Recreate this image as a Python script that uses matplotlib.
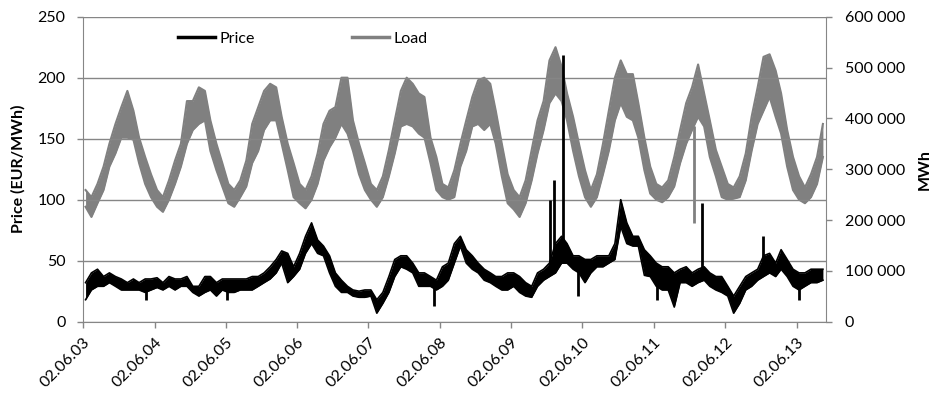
import numpy as np
import pandas as pd
import matplotlib
matplotlib.use("Agg")
import matplotlib.pyplot as plt
from matplotlib.ticker import FuncFormatter, MultipleLocator
import matplotlib.dates as mdates

# Monthly envelopes, June 2003 .. October 2013 (one value per month)
price_hi = [32, 40, 43, 37, 40, 37, 35, 32, 35, 32, 35, 35,
            36, 32, 37, 35, 35, 37, 29, 29, 37, 37, 32, 35,
            35, 35, 35, 35, 37, 37, 40, 45, 51, 58, 56, 45,
            56, 70, 81, 67, 62, 54, 40, 34, 29, 26, 25, 26,
            26, 18, 24, 37, 51, 54, 54, 48, 40, 40, 37, 34,
            45, 48, 64, 70, 59, 54, 48, 43, 40, 37, 37, 40,
            40, 37, 32, 29, 40, 43, 48, 64, 70, 64, 54, 54,
            51, 51, 54, 54, 54, 64, 100, 81, 70, 70, 59, 54,
            48, 45, 45, 40, 43, 45, 40, 43, 45, 40, 37, 37,
            29, 21, 29, 37, 40, 43, 54, 56, 48, 59, 51, 43,
            40, 40, 43, 43, 43]
price_lo = [18, 26, 29, 29, 32, 29, 26, 26, 26, 26, 24, 26,
            28, 26, 29, 26, 29, 29, 24, 21, 24, 26, 21, 26,
            24, 24, 26, 26, 26, 29, 32, 35, 40, 48, 32, 37,
            43, 56, 64, 56, 54, 40, 29, 24, 24, 21, 20, 20,
            21, 7, 15, 24, 37, 45, 43, 40, 29, 29, 29, 26,
            29, 34, 48, 62, 48, 43, 40, 34, 32, 29, 26, 26,
            29, 24, 21, 20, 29, 34, 37, 40, 48, 48, 43, 40,
            32, 40, 45, 45, 48, 51, 78, 64, 62, 62, 38, 37,
            29, 26, 26, 12, 32, 32, 29, 32, 34, 29, 26, 24,
            21, 7, 15, 26, 29, 34, 37, 40, 37, 43, 37, 29,
            26, 29, 32, 32, 34]

# short-lived price spikes and dips (EUR/MWh)
spike_dates = ["2004-04-20", "2005-06-10", "2008-05-05", "2009-12-17",
               "2010-01-08", "2010-02-22", "2010-05-10", "2011-06-20",
               "2012-02-06", "2012-12-12", "2013-06-15"]
spike_values = [18, 18, 13, 100, 116, 219, 21, 18, 97, 70, 18]

# Load envelope, thousand MWh
load_hi = [259, 245, 271, 305, 350, 389, 422, 454, 415, 362, 324, 290,
           259, 245, 278, 317, 350, 434, 434, 461, 454, 396, 350, 312,
           271, 259, 278, 317, 389, 422, 454, 468, 461, 403, 350, 312,
           271, 259, 286, 331, 389, 415, 422, 480, 480, 396, 350, 312,
           271, 259, 286, 338, 396, 454, 480, 468, 449, 442, 362, 324,
           271, 264, 298, 350, 396, 442, 475, 480, 468, 415, 350, 290,
           259, 245, 278, 338, 396, 434, 514, 540, 502, 449, 403, 350,
           298, 259, 290, 350, 415, 480, 514, 487, 487, 430, 362, 305,
           271, 264, 278, 324, 377, 430, 461, 506, 449, 396, 338, 305,
           271, 264, 286, 331, 403, 461, 521, 526, 494, 449, 377, 324,
           286, 264, 290, 324, 389]
load_lo = [226, 206, 233, 259, 305, 331, 362, 362, 358, 312, 271, 245,
           226, 216, 240, 271, 305, 350, 377, 389, 396, 336, 298, 266,
           233, 226, 245, 266, 312, 336, 377, 396, 396, 350, 298, 245,
           233, 223, 240, 271, 317, 343, 362, 389, 370, 336, 290, 259,
           240, 226, 245, 286, 331, 384, 389, 384, 370, 362, 312, 259,
           245, 240, 245, 305, 336, 384, 389, 377, 389, 350, 286, 233,
           221, 206, 233, 278, 331, 377, 430, 449, 434, 396, 336, 286,
           245, 226, 245, 290, 336, 396, 430, 403, 396, 362, 298, 252,
           240, 235, 245, 266, 312, 350, 377, 403, 384, 324, 286, 245,
           240, 242, 245, 278, 336, 389, 415, 442, 403, 370, 305, 259,
           240, 233, 245, 271, 324]
load_dip_date = "2011-12-24"
load_dip_value = 194  # thousand MWh

year_ticks = pd.date_range("2003-06-02", "2013-06-02", freq=pd.DateOffset(years=1))

months = pd.date_range("2003-06-01", periods=len(price_hi), freq="MS") + pd.Timedelta(days=14)
spikes = pd.to_datetime(spike_dates)

plt.rcParams["font.family"] = ["Lato", "DejaVu Sans"]
GRID = "#868686"
LOAD_C = "#808080"
FS = 11.5

fig = plt.figure(figsize=(9.34, 4.01), dpi=100)
ax = fig.add_axes([0.0889, 0.1978, 0.7955, 0.7606])
ax2 = ax.twinx()
ax.set_zorder(ax2.get_zorder() + 1)
ax.patch.set_visible(False)

# load on the right axis
lo = np.array(load_lo) * 1000
hi = np.array(load_hi) * 1000
ax2.fill_between(months, lo, hi, color=LOAD_C, lw=0)
ax2.plot(months, lo, color=LOAD_C, lw=1.5)
ax2.plot(months, hi, color=LOAD_C, lw=1.5)
dip_x = pd.Timestamp(load_dip_date)
dip_base = np.interp(mdates.date2num(dip_x), mdates.date2num(months), lo)
ax2.vlines(dip_x, load_dip_value * 1000, dip_base, color=LOAD_C, lw=2)

# price on the left axis
ax.fill_between(months, price_lo, price_hi, color="black", lw=0)
ax.plot(months, price_lo, color="black", lw=1.2)
ax.plot(months, price_hi, color="black", lw=1.2)
mid = (np.array(price_lo) + np.array(price_hi)) / 2
base = np.interp(mdates.date2num(spikes), mdates.date2num(months), mid)
ax.vlines(spikes, base, spike_values, color="black", lw=2)

ax.plot([], [], color="black", lw=2.5, label="Price")
ax.plot([], [], color=LOAD_C, lw=2.5, label="Load")
ax.legend(loc="center left", bbox_to_anchor=(0.128, 0.927), ncol=2, frameon=False,
          fontsize=FS, handlelength=2.3, handletextpad=0.3, columnspacing=6.1,
          borderpad=0, borderaxespad=0)

ax.set_xlim(pd.Timestamp("2003-06-02"), pd.Timestamp("2013-10-31"))
ax.set_ylim(0, 250)
ax.yaxis.set_major_locator(MultipleLocator(50))
ax2.set_ylim(0, 600000)
ax2.yaxis.set_major_locator(MultipleLocator(100000))
ax2.yaxis.set_major_formatter(FuncFormatter(lambda v, p: f"{int(v):,}".replace(",", " ")))

ax.set_xticks(year_ticks)
ax.set_xticklabels([d.strftime("%d.%m.%y") for d in year_ticks], rotation=45,
                   ha="right", va="top", rotation_mode="anchor")

ax.grid(axis="y", color=GRID, lw=1)
ax.set_axisbelow(True)
for a in (ax, ax2):
    for s in a.spines.values():
        s.set_color(GRID)
    a.spines["top"].set_visible(False)
ax.spines["right"].set_visible(False)
ax2.spines["left"].set_visible(False)
ax2.spines["bottom"].set_visible(False)

ax.tick_params(axis="y", length=4.5, width=1, color=GRID, pad=8, labelsize=FS)
ax.tick_params(axis="x", length=4.5, width=1, color=GRID, pad=5, labelsize=FS)
ax2.tick_params(axis="y", length=4.5, width=1, color=GRID, pad=9, labelsize=FS)

ax.set_ylabel("Price (EUR/MWh)", fontsize=FS, fontweight="bold")
ax.yaxis.set_label_coords(-0.077, 0.5)
ax2.set_ylabel("MWh", fontsize=FS, fontweight="bold", rotation=90)
ax2.yaxis.set_label_coords(1.124, 0.5)

fig.savefig("out.png", dpi=100)
